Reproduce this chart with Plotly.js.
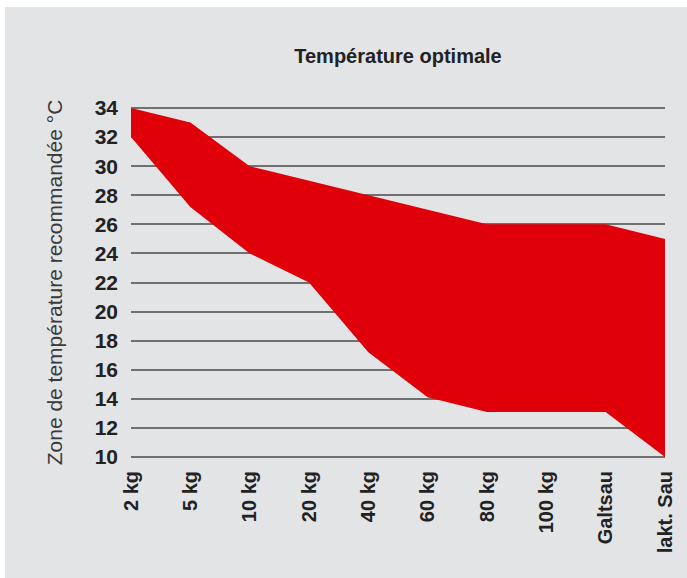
<!DOCTYPE html>
<html>
<head>
<meta charset="utf-8">
<script src="https://cdn.plot.ly/plotly-3.0.1.min.js"></script>
<style>
html,body{margin:0;padding:0;background:#ffffff;}
#chart{position:absolute;left:5px;top:7px;width:682px;height:571px;}
</style>
</head>
<body>
<div id="chart"></div>
<script>
// Data
const categories = ["2 kg", "5 kg", "10 kg", "20 kg", "40 kg", "60 kg", "80 kg", "100 kg", "Galtsau", "lakt. Sau"];
const upperTemp = [34, 33, 30, 29, 28, 27, 26, 26, 26, 25];
const lowerTemp = [32, 27.2, 24, 22, 17.2, 14.1, 13.1, 13.1, 13.1, 10];
const yTicks = [10, 12, 14, 16, 18, 20, 22, 24, 26, 28, 30, 32, 34];

const red = "#df0009";
const bg = "#e3e4e6";

const traces = [
  {
    x: categories, y: lowerTemp, type: "scatter", mode: "lines",
    line: {width: 0, color: red}, hoverinfo: "skip", showlegend: false
  },
  {
    x: categories, y: upperTemp, type: "scatter", mode: "lines",
    line: {width: 0, color: red}, fill: "tonexty", fillcolor: red,
    showlegend: false
  }
];

const layout = {
  width: 682, height: 571,
  paper_bgcolor: bg, plot_bgcolor: bg,
  margin: {l: 126, r: 22, t: 100, b: 120, pad: 0},
  showlegend: false,
  title: {
    text: "<b>Température optimale</b>",
    font: {family: "Liberation Sans, Arial, sans-serif", size: 20, color: "#222222"},
    x: 0.5, xanchor: "center", xref: "paper",
    y: 0.914, yanchor: "middle", yref: "container"
  },
  xaxis: {
    type: "category",
    categoryorder: "array", categoryarray: categories,
    range: [0, 9],
    showgrid: false, zeroline: false, showline: false,
    ticks: "", tickangle: -90,
    ticklabelstandoff: 8,
    tickfont: {family: "Liberation Sans, Arial, sans-serif", size: 20, color: "#222222", weight: "bold"}
  },
  yaxis: {
    range: [9.93, 34.07],
    tickmode: "array", tickvals: yTicks, ticktext: yTicks.map(String),
    showgrid: true, gridcolor: "#707070", gridwidth: 2,
    zeroline: false, showline: false, ticks: "",
    ticklabelstandoff: 12,
    tickfont: {family: "Liberation Sans, Arial, sans-serif", size: 21, color: "#222222", weight: "bold"},
    title: {
      text: "Zone de température recommandée °C",
      font: {family: "Liberation Sans, Arial, sans-serif", size: 21, color: "#3a3a3a"},
      standoff: 26
    }
  }
};

Plotly.newPlot("chart", traces, layout, {displayModeBar: false, staticPlot: true});
</script>
</body>
</html>
